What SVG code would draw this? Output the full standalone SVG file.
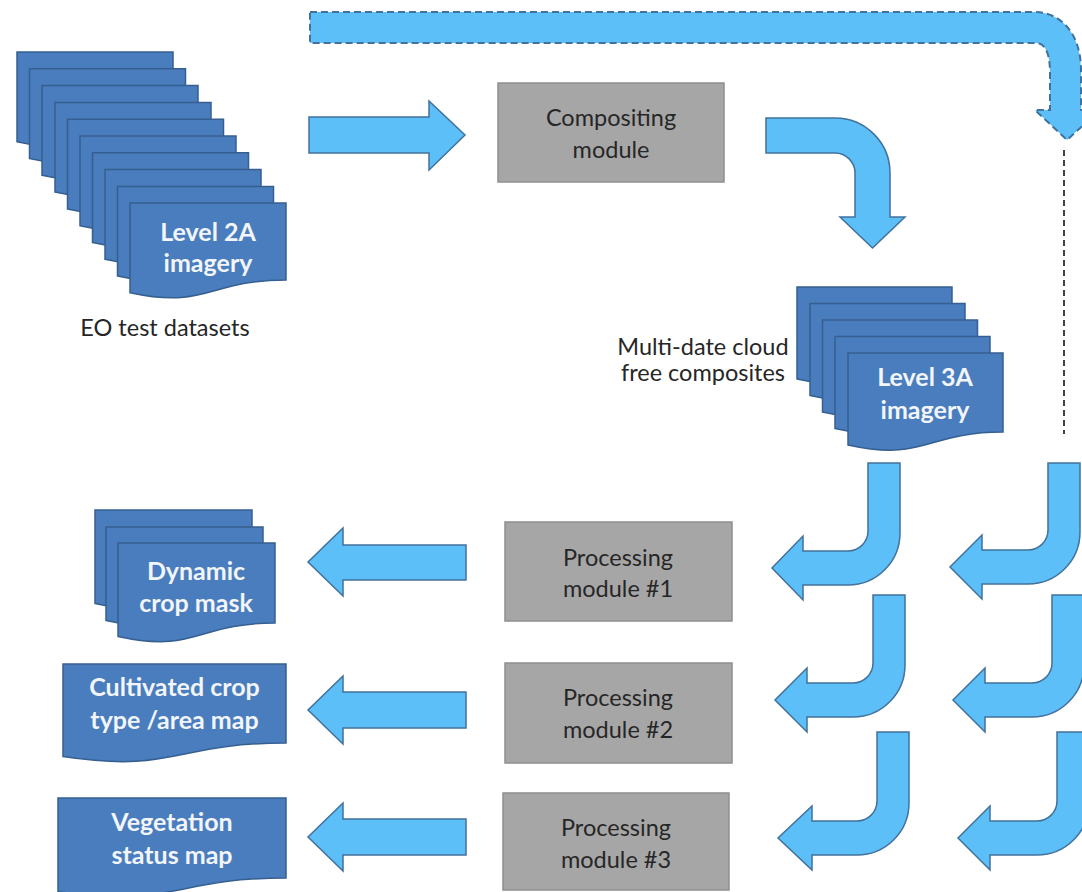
<svg xmlns="http://www.w3.org/2000/svg" width="1082" height="892" viewBox="0 0 1082 892">
  <defs>
    <style>
      .sheet { fill: #4a7dbd; stroke: #365f91; stroke-width: 1.5; }
      .module { fill: #a6a6a6; stroke: #8f8f8f; stroke-width: 1.5; }
      .flow { fill: #5cbff7; stroke: #41719c; stroke-width: 1.5; stroke-linejoin: miter; }
      .flow-dashed { fill: #5cbff7; stroke: #41719c; stroke-width: 2; stroke-dasharray: 7 4; }
      .dotted { stroke: #404040; stroke-width: 2; stroke-dasharray: 6 4; fill: none; }
      .lbl { font-family: Lato, "Liberation Sans", sans-serif; font-size: 23.5px; fill: #262626; text-anchor: middle; }
      .doc { font-family: Lato, "Liberation Sans", sans-serif; font-size: 25px; font-weight: bold; fill: #f2f5fa; text-anchor: middle; }
    </style>
  </defs>

  <!-- connectors -->
  <g id="connectors">
    <!-- feedback route across the top, dashed outline -->
    <path class="flow-dashed" d="M310,12 H1034 C1062,12 1081,35 1081,70 V110 H1100 L1067,140 L1035,110 H1050 V73 C1050,55 1046,43 1036,43 H310 Z"/>
    <line class="dotted" x1="1064" y1="150" x2="1064" y2="434"/>
    <!-- imagery into compositing -->
    <path class="flow" d="M309,117 H429 V101 L465,135 L429,170 V153 H309 Z"/>
    <!-- compositing down to level 3A -->
    <path class="flow" d="M766,118 H835 A55,55 0 0 1 890,173 V217 H905 L872.5,248 L840,217 H855 V173 A20,20 0 0 0 835,153 H766 Z"/>
    <!-- J-shaped feeds into the processing modules -->
    <path class="flow" d="M868,463 H900 V533 A52,52 0 0 1 848,585 H803 V600 L772,568 L803,536 V551 H848 A20,20 0 0 0 868,531 Z"/>
    <path class="flow" d="M873,595 H905 V665 A52,52 0 0 1 853,717 H807 V732 L775,700 L807,668 V683 H853 A20,20 0 0 0 873,663 Z"/>
    <path class="flow" d="M877,732 H909 V803 A52,52 0 0 1 857,855 H812 V870 L778,838 L812,806 V821 H857 A20,20 0 0 0 877,801 Z"/>
    <path class="flow" d="M1048,463 H1080 V532 A52,52 0 0 1 1028,584 H982 V599 L950,567 L982,535 V550 H1028 A20,20 0 0 0 1048,530 Z"/>
    <path class="flow" d="M1052,595 H1084 V665 A52,52 0 0 1 1032,717 H985 V732 L953,700 L985,668 V683 H1032 A20,20 0 0 0 1052,663 Z"/>
    <path class="flow" d="M1057,732 H1089 V803 A52,52 0 0 1 1037,855 H990 V870 L958,838 L990,806 V821 H1037 A20,20 0 0 0 1057,801 Z"/>
    <!-- module outputs -->
    <path class="flow" d="M466,545 H343 V528 L308,562 L343,596 V580 H466 Z"/>
    <path class="flow" d="M466,692 H343 V676 L308,710 L343,744 V728 H466 Z"/>
    <path class="flow" d="M466,819 H343 V803 L308,837 L343,871 V855 H466 Z"/>
  </g>

  <!-- input imagery stack -->
  <g id="level2a">
    <path class="sheet" d="M17,52 h156 v77 c-78,0 -78,29.5 -156,12.7 Z"/>
    <path class="sheet" d="M29.5,68.8 h156 v77 c-78,0 -78,29.5 -156,12.7 Z"/>
    <path class="sheet" d="M42,85.6 h156 v77 c-78,0 -78,29.5 -156,12.7 Z"/>
    <path class="sheet" d="M55,102.4 h156 v77 c-78,0 -78,29.5 -156,12.7 Z"/>
    <path class="sheet" d="M67.5,119.2 h156 v77 c-78,0 -78,29.5 -156,12.7 Z"/>
    <path class="sheet" d="M80,136 h156 v77 c-78,0 -78,29.5 -156,12.7 Z"/>
    <path class="sheet" d="M92.5,152.8 h156 v77 c-78,0 -78,29.5 -156,12.7 Z"/>
    <path class="sheet" d="M105,169.6 h156 v77 c-78,0 -78,29.5 -156,12.7 Z"/>
    <path class="sheet" d="M117.5,186.4 h156 v77 c-78,0 -78,29.5 -156,12.7 Z"/>
    <path class="sheet" d="M130,203 h156 v77 c-78,0 -78,29.5 -156,12.7 Z"/>
    <text class="doc" x="208" y="241">Level 2A</text>
    <text class="doc" x="208" y="272">imagery</text>
  </g>
  <g id="eo-caption">
    <text class="lbl" x="165" y="336">EO test datasets</text>
  </g>

  <!-- compositing module -->
  <g id="compositing">
    <rect class="module" x="498" y="83" width="226" height="99"/>
    <text class="lbl" x="611" y="126">Compositing</text>
    <text class="lbl" x="611" y="158">module</text>
  </g>

  <!-- composite imagery stack -->
  <g id="level3a">
    <path class="sheet" d="M797,287 h155 v79 c-77.5,0 -77.5,30 -155,13 Z"/>
    <path class="sheet" d="M810,303.5 h155 v79 c-77.5,0 -77.5,30 -155,13 Z"/>
    <path class="sheet" d="M822.5,320 h155 v79 c-77.5,0 -77.5,30 -155,13 Z"/>
    <path class="sheet" d="M835,336.5 h155 v79 c-77.5,0 -77.5,30 -155,13 Z"/>
    <path class="sheet" d="M848,353 h155 v79 c-77.5,0 -77.5,30 -155,13 Z"/>
    <text class="doc" x="925" y="386">Level 3A</text>
    <text class="doc" x="925" y="419">imagery</text>
  </g>
  <g id="composite-caption">
    <text class="lbl" x="703" y="355">Multi-date cloud</text>
    <text class="lbl" x="703" y="381">free composites</text>
  </g>

  <!-- processing modules -->
  <g id="processing1">
    <rect class="module" x="505" y="522" width="227" height="99"/>
    <text class="lbl" x="618" y="566">Processing</text>
    <text class="lbl" x="618" y="597">module #1</text>
  </g>
  <g id="processing2">
    <rect class="module" x="505" y="663" width="227" height="100"/>
    <text class="lbl" x="618" y="706">Processing</text>
    <text class="lbl" x="618" y="738">module #2</text>
  </g>
  <g id="processing3">
    <rect class="module" x="503" y="793" width="226" height="97"/>
    <text class="lbl" x="616" y="836">Processing</text>
    <text class="lbl" x="616" y="868">module #3</text>
  </g>

  <!-- products -->
  <g id="crop-mask">
    <path class="sheet" d="M95,510 h157 v80 c-78.5,0 -78.5,30.7 -157,13.5 Z"/>
    <path class="sheet" d="M106,527 h157 v80 c-78.5,0 -78.5,30.7 -157,13.5 Z"/>
    <path class="sheet" d="M118,543 h157 v80 c-78.5,0 -78.5,30.7 -157,13.5 Z"/>
    <text class="doc" x="196" y="580">Dynamic</text>
    <text class="doc" x="196" y="612">crop mask</text>
  </g>
  <g id="crop-type-map">
    <path class="sheet" d="M63,664 h223 v79 c-111.5,0 -111.5,30.5 -223,13.5 Z"/>
    <text class="doc" x="174.5" y="696">Cultivated crop</text>
    <text class="doc" x="174.5" y="729">type /area map</text>
  </g>
  <g id="vegetation-map">
    <path class="sheet" d="M58,798 h228 v80 c-114,0 -114,31 -228,13.5 Z"/>
    <text class="doc" x="172" y="831">Vegetation</text>
    <text class="doc" x="172" y="864">status map</text>
  </g>
</svg>
